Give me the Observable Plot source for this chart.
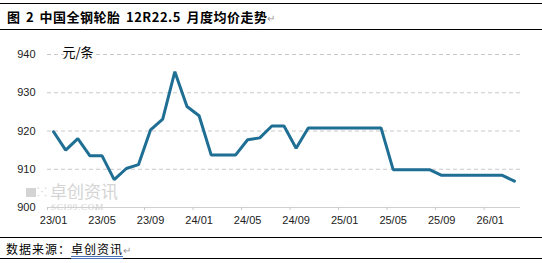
<!DOCTYPE html>
<html>
<head>
<meta charset="utf-8">
<script src="https://cdn.jsdelivr.net/npm/d3@7"></script>
<script src="https://cdn.jsdelivr.net/npm/@observablehq/plot@0.6"></script>
<style>
  html, body { margin: 0; padding: 0; background: #fff; width: 542px; height: 263px; overflow: hidden; position: relative; font-family: "Noto Sans CJK SC", sans-serif; }
  .bar { position: absolute; left: 0; width: 542px; box-sizing: border-box; }
  #title { top: 3px; height: 27px; border-top: 1.5px solid #000; border-bottom: 1px solid #000; }
  #title span.t { position: absolute; left: 7px; top: 3px; font-size: 13px; font-weight: bold; line-height: 20px; color: #000; white-space: nowrap; letter-spacing: 0.5px; word-spacing: 2px; }
  #footer { top: 237px; height: 22px; border-top: 1px solid #000; border-bottom: 1px solid #000; }
  #footer span.t { position: absolute; left: 6px; top: 1px; font-size: 12px; line-height: 20px; color: #000; white-space: nowrap; letter-spacing: 1px; }
  .ret { color: #999; font-size: 10px; font-weight: normal; letter-spacing: 0; }
  .link { border-bottom: 3px double #4a72b8; line-height: 14px; display: inline-block; }
  #chart { position: absolute; left: 0; top: 30px; }
  .wm { position: absolute; color: #d4d4d4; white-space: nowrap; }
</style>
</head>
<body>
<div id="title" class="bar"><span class="t">图 2 中国全钢轮胎 12R22.5 月度均价走势<span class="ret">↵</span></span></div>
<div id="chart"></div>
<div class="wm" style="left:26px;top:188px;width:10px;height:9px;background:#d4d4d4;"></div>
<div class="wm" style="left:37px;top:184px;font-size:12px;line-height:13px;">⁙</div>
<div class="wm" style="left:50px;top:182px;font-size:17px;line-height:17px;">卓创资讯</div>
<div class="wm" style="left:51px;top:203px;font-size:9px;line-height:9px;font-family:'Liberation Serif',serif;letter-spacing:0.8px;color:#cfcfcf;">SCI99.COM</div>
<div id="footer" class="bar"><span class="t">数据来源：<span class="link">卓创资讯</span><span class="ret">↵</span></span></div>
<script>
const months = [
  "23/01","23/02","23/03","23/04","23/05","23/06","23/07","23/08","23/09","23/10","23/11","23/12",
  "24/01","24/02","24/03","24/04","24/05","24/06","24/07","24/08","24/09","24/10","24/11","24/12",
  "25/01","25/02","25/03","25/04","25/05","25/06","25/07","25/08","25/09","25/10","25/11","25/12",
  "26/01","26/02","26/03"
];
const prices = [
  919.8, 915.0, 918.0, 913.5, 913.5, 907.3, 910.2, 911.2, 920.3, 923.1, 935.5, 926.4,
  924.0, 913.7, 913.7, 913.7, 917.7, 918.2, 921.3, 921.3, 915.5, 920.8, 920.8, 920.8,
  920.8, 920.8, 920.8, 920.8, 909.9, 909.9, 909.9, 909.9, 908.4, 908.4, 908.4, 908.4,
  908.4, 908.4, 906.9
];
const tickLabels = ["23/01","23/05","23/09","24/01","24/05","24/09","25/01","25/05","25/09","26/01"];
const yTicks = [900, 910, 920, 930, 940];
const unitLabel = "元/条";

const data = months.map((m, i) => ({i, m, v: prices[i]}));
const labelIdx = tickLabels.map(t => months.indexOf(t));
const edgeIdx = labelIdx.map(i => i - 0.5);

const chart = Plot.plot({
  width: 542,
  height: 206,
  marginLeft: 47,
  marginRight: 22,
  marginTop: 24,
  marginBottom: 29,
  style: {fontFamily: "'Liberation Sans', Arial, sans-serif", background: "transparent"},
  x: {type: "linear", domain: [-0.5, months.length - 0.5]},
  y: {domain: [900, 940]},
  marks: [
    Plot.gridY(yTicks.filter(d => d > 900), {stroke: "#c8c8c8", strokeOpacity: 1, strokeDasharray: "4,3"}),
    Plot.ruleY([900], {stroke: "#d0d0d0"}),
    Plot.axisY({ticks: yTicks, tickSize: 0, tickPadding: 12, fontSize: 11, label: null, color: "#222"}),
    Plot.axisX({ticks: edgeIdx, tickSize: 3, tickFormat: () => "", stroke: "#c8c8c8", label: null}),
    Plot.axisX({ticks: labelIdx, tickSize: 0, tickPadding: 9, tickFormat: i => months[i], fontSize: 11, label: null, color: "#222"}),
    Plot.text([unitLabel], {frameAnchor: "top-left", dx: 15, dy: -7, fontSize: 13, fontFamily: "'Noto Sans CJK SC', sans-serif", fill: "#000", stroke: "white", strokeWidth: 4}),
    Plot.line(data, {x: "i", y: "v", stroke: "#1f6f95", strokeWidth: 3, strokeLinejoin: "miter"})
  ]
});
document.getElementById("chart").appendChild(chart);
</script>
</body>
</html>
